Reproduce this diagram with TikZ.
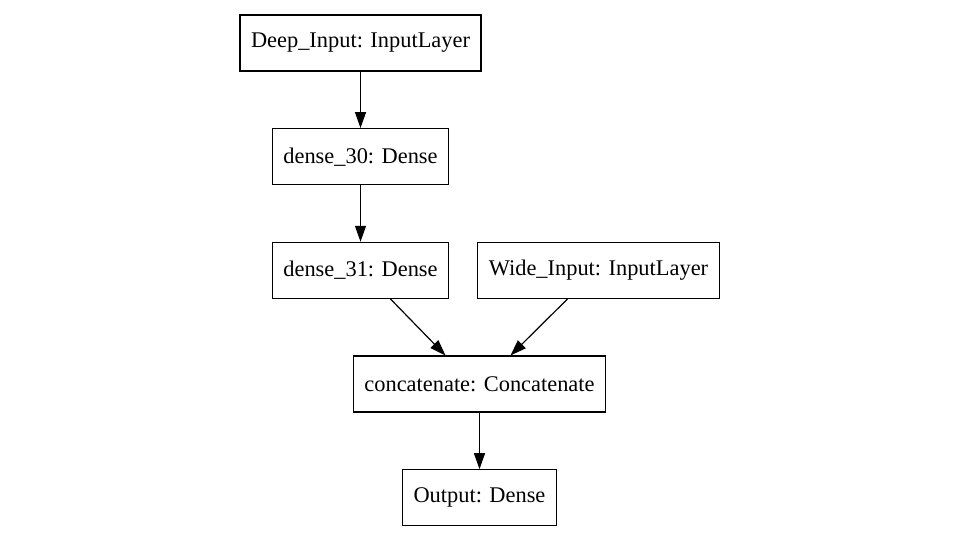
\documentclass[tikz,border=0pt]{standalone}
\usepackage{fontspec}
\setmainfont{Liberation Serif}
\usetikzlibrary{positioning,calc,arrows.meta}

\begin{document}
\begin{tikzpicture}[
        x=1pt,
        y=1pt,
        every node/.style={font=\fontsize{22.4}{26}\selectfont},
        layer/.style={
            rectangle,
            draw=black,
            line width=1.2pt,
            inner xsep=11pt,
            minimum height=56pt
        },
        arrow/.style={
            -{Triangle[length=16pt,width=11pt]},
            line width=1.2pt
        }
    ]

    \useasboundingbox (0,0) rectangle (960,540);

    % deep branch
    \node[layer] (deep) at (360.5,497) {Deep\_Input: InputLayer};
    \node[layer, below=56.5pt of deep] (dense30) {dense\_30: Dense};
    \node[layer, below=56.5pt of dense30] (dense31) {dense\_31: Dense};

    % wide branch
    \node[layer, right=28pt of dense31] (wide) {Wide\_Input: InputLayer};

    % merge and output
    \node[layer, below=56.5pt of {$(dense31.south)!0.5!(wide.south)$}] (concat)
    {concatenate: Concatenate};
    \node[layer, below=56.5pt of concat] (output) {Output: Dense};

    % arrows
    \draw[arrow] (deep) -- (dense30);
    \draw[arrow] (dense30) -- (dense31);
    \draw[arrow] ([xshift=30pt]dense31.south) -- ([xshift=-34pt]concat.north);
    \draw[arrow] ([xshift=-31pt]wide.south) -- ([xshift=31pt]concat.north);
    \draw[arrow] (concat) -- (output);

\end{tikzpicture}
\end{document}
